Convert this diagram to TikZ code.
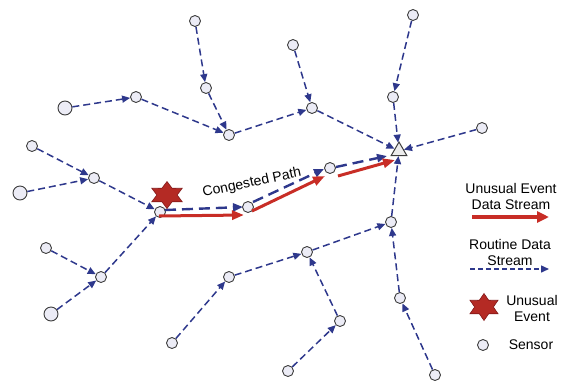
\documentclass[tikz,border=0pt]{standalone}
\usepackage{fontspec}
\setmainfont{Liberation Sans}
\usetikzlibrary{arrows.meta,shapes.geometric}
\definecolor{rblue}{RGB}{46,56,140}
\definecolor{ured}{RGB}{200,45,38}
\definecolor{starred}{RGB}{180,42,36}
\definecolor{stardark}{RGB}{130,25,25}
\definecolor{sensorfill}{RGB}{236,236,246}
\definecolor{sensordraw}{RGB}{60,60,60}
\begin{document}
\begin{tikzpicture}[x=1pt,y=-1pt,
  sensor/.style={circle, draw=sensordraw, fill=sensorfill, line width=0.9pt, minimum size=11pt, inner sep=0pt},
  bigsensor/.style={sensor, minimum size=14pt},
  sinknode/.style={regular polygon, regular polygon sides=3, draw=sensordraw, fill=gray!15, line width=1pt, minimum size=18pt, inner sep=0pt},
  routine/.style={draw=rblue, line width=1.5pt, dash pattern=on 7pt off 4pt, -{Triangle[length=8pt,width=7pt]}},
  congblue/.style={draw=rblue, line width=2.4pt, dash pattern=on 11pt off 6pt, -{Triangle[length=10pt,width=8pt]}},
  unusual/.style={draw=ured, line width=3pt, -{Triangle[length=12pt,width=9pt]}},
  eventstar/.style={star, star points=6, star point ratio=1.73, fill=starred, draw=stardark, line width=0.6pt, inner sep=0pt},
  lbl/.style={font=\fontsize{14}{16}\selectfont, align=center, inner sep=0pt}
]
\useasboundingbox (0,0) rectangle (562,381);

% sensors
\node[sensor] (A1) at (195,21) {};
\node[sensor] (A2) at (206,88) {};
\node[sensor] (A3) at (229,135) {};
\node[bigsensor] (B1) at (65,108) {};
\node[sensor] (B2) at (136,97) {};
\node[sensor] (C1) at (293,45) {};
\node[sensor] (C2) at (312,108) {};
\node[sensor] (D1) at (413,15) {};
\node[sensor] (D2) at (393,97) {};
\node[sensor] (E1) at (482,128) {};
\node[sinknode] (S) at (399,151) {};
\node[sensor] (F1) at (32,146) {};
\node[sensor] (F2) at (94,178) {};
\node[bigsensor] (G) at (20,193) {};
\node[sensor] (H) at (160,212) {};
\node[sensor] (I1) at (46,248) {};
\node[sensor] (I2) at (101,277) {};
\node[bigsensor] (I3) at (51,314) {};
\node[sensor] (J1) at (172,343) {};
\node[sensor] (J2) at (229,277) {};
\node[sensor] (M) at (307,252) {};
\node[sensor] (K) at (391,222) {};
\node[sensor] (L1) at (288,371) {};
\node[sensor] (L2) at (340,321) {};
\node[sensor] (N) at (400,298) {};
\node[sensor] (O) at (435,375) {};
\node[sensor] (P) at (248,207) {};
\node[sensor] (Q) at (330,168) {};

% routine streams
\draw[routine] (A1) -- (A2);
\draw[routine] (A2) -- (A3);
\draw[routine] (B1) -- (B2);
\draw[routine] (B2) -- (A3);
\draw[routine] (A3) -- (C2);
\draw[routine] (C1) -- (C2);
\draw[routine] (C2) -- (S);
\draw[routine] (D1) -- (D2);
\draw[routine] (D2) -- (S);
\draw[routine] (E1) -- (S);
\draw[routine] (F1) -- (F2);
\draw[routine] (G) -- (F2);
\draw[routine] (F2) -- (H);
\draw[routine] (I1) -- (I2);
\draw[routine] (I3) -- (I2);
\draw[routine] (I2) -- (H);
\draw[routine] (J1) -- (J2);
\draw[routine] (J2) -- (M);
\draw[routine] (L1) -- (L2);
\draw[routine] (L2) -- (M);
\draw[routine] (M) -- (K);
\draw[routine] (O) -- (N);
\draw[routine] (N) -- (K);
\draw[routine] (K) -- (S);

% congested path
\draw[congblue] ([shift={(5,-2)}]H.center) -- ([shift={(-5,0)}]P.center);
\draw[congblue] ([shift={(5,-5)}]P.center) -- ([shift={(-6,1)}]Q.center);
\draw[congblue] ([shift={(6,-1)}]Q.center) -- ([shift={(-12,5)}]S.center);
\draw[unusual] ([shift={(-1,4)}]H.center) -- ([shift={(-4,8)}]P.center);
\draw[unusual] ([shift={(4,4)}]P.center) -- ([shift={(-5,8)}]Q.center);
\draw[unusual] ([shift={(8,8)}]Q.center) -- ([shift={(-4,9)}]S.center);

\begin{scope}[shift={(167,195)}, xscale=1.3]
  \node[eventstar, minimum size=27pt, transform shape] (star) at (0,0) {};
\end{scope}
\node[lbl, rotate=12] (cp) at (252,183) {Congested Path};

% legend
\node[lbl] (lg1) at (511,196) {Unusual Event\\Data Stream};
\coordinate (r1) at (472,217);
\coordinate (r2) at (549,217);
\draw[draw=ured, line width=3.5pt, -{Triangle[length=12pt,width=11pt]}] (r1) -- (r2);
\node[lbl] (lg2) at (510,252) {Routine Data\\Stream};
\coordinate (b1) at (470,269);
\coordinate (b2) at (549,269);
\draw[draw=rblue, line width=1.5pt, dash pattern=on 5pt off 3pt, -{Triangle[length=8pt,width=7pt]}] (b1) -- (b2);
\begin{scope}[shift={(484,307)}, xscale=1.2]
  \node[eventstar, minimum size=27pt, transform shape] (lstar) at (0,0) {};
\end{scope}
\node[lbl] (lg3) at (532,308) {Unusual\\Event};
\node[sensor] (lsens) at (483,345) {};
\node[lbl] (lg4) at (531,345) {Sensor};
\end{tikzpicture}
\end{document}
